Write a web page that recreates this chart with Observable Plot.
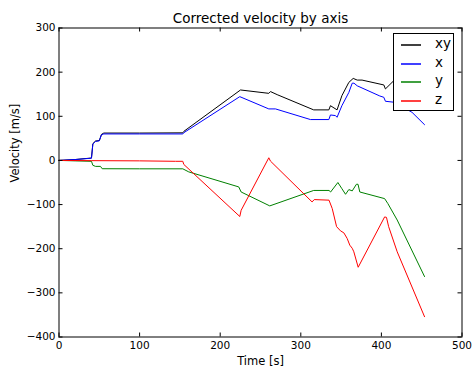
<!DOCTYPE html>
<html>
<head>
<meta charset="utf-8">
<script src="https://cdn.jsdelivr.net/npm/d3@7"></script>
<script src="https://cdn.jsdelivr.net/npm/@observablehq/plot@0.6"></script>
<style>
  html, body { margin: 0; padding: 0; background: #fff; }
  #wrap { position: relative; width: 473px; height: 369px; font-family: "DejaVu Sans", sans-serif; }
  #legend { position: absolute; left: 393px; top: 33px; width: 59px; height: 76px; border: 1px solid #000; background: #fff; }
  .entry { position: absolute; left: 0; height: 16px; width: 59px; }
  .entry .sw { position: absolute; left: 7px; top: 8px; width: 20px; height: 2px; opacity: 0.75; }
  .entry .lb { position: absolute; left: 41px; top: -1px; font-size: 13.5px; line-height: 16px; color: #000; }
</style>
</head>
<body>
<div id="wrap"></div>
<script>
// ---- data ----
const title = "Corrected velocity by axis";
const xLabel = "Time [s]";
const yLabel = "Velocity [m/s]";
const seriesNames = ["xy", "x", "y", "z"];
const seriesColors = ["#000000", "#0000ff", "#008000", "#ff0000"];
const xTicks = [0, 100, 200, 300, 400, 500];
const yTicks = [-400, -300, -200, -100, 0, 100, 200, 300];

const xyT = [0, 20, 40.3, 42, 45.3, 50, 52.7, 55.6, 100, 153.6, 155, 225.2, 260.3, 262.4, 270.7, 316, 334.8, 336.8, 345, 351, 359.6, 365, 370, 376, 403, 405, 415, 430, 440, 453.5];
const xyV = [0, 2, 5.5, 38, 44, 45, 59, 62, 62, 62.5, 66, 159.6, 152, 156, 149, 114.5, 114.5, 124, 114.5, 146.7, 176.8, 185.8, 182, 182, 171, 162, 180, 209, 237, 275];

const xT = [0, 20, 40.3, 42, 45.3, 50, 52.7, 55.6, 100, 153.6, 155, 224.3, 260.3, 268.6, 312, 334.8, 336.8, 343, 345, 351, 359.6, 363.8, 366, 370, 398, 403, 405, 415, 420, 438, 453.5];
const xV = [0, 2, 5, 37, 43, 44.5, 58, 60, 60, 60, 63, 144.5, 116.7, 116.7, 92.6, 92.6, 103, 101.6, 97.8, 124, 154, 175, 175, 169, 146, 143, 134, 132, 128, 109, 81];

const yT = [0, 20, 40.3, 42, 45.3, 51.5, 53.6, 100, 153.6, 161, 223, 226, 261.5, 316, 335, 337, 346, 351, 355.5, 359.6, 363.8, 369, 371, 373.2, 404, 408, 419.6, 453.5];
const yV = [0, -1, -2, -11, -13.5, -13.5, -18.8, -19, -19, -26, -60, -71.5, -103, -68, -68, -71.5, -50, -64, -76.7, -66, -69, -54, -54, -71.5, -86.5, -97.7, -135, -263];

const zT = [0, 40, 100, 144.6, 153.6, 154.8, 224.3, 226, 260.3, 262.4, 314, 316.7, 335, 339, 344.4, 349.3, 353.4, 357.5, 360.8, 363.8, 365.8, 371.2, 404, 406.3, 409, 419.6, 453.5];
const zV = [0, -0.5, -1, -2, -2, -9, -127, -113, 6, -1.6, -94, -88.7, -90, -109, -150, -159.6, -164, -176.7, -192, -199, -207, -242, -128, -129, -150, -207, -354];

// ---- build ----
const rows = (ts, vs) => ts.map((t, i) => ({t, v: vs[i]}));
const seriesData = [rows(xyT, xyV), rows(xT, xV), rows(yT, yV), rows(zT, zV)];

const W = 473, H = 369;
const mL = 58.5, mR = 11.5, mT = 27.5, mB = 32.5;
const fw = W - mL - mR, fh = H - mT - mB;
const tick = 4;

const chart = Plot.plot({
  width: W,
  height: H,
  marginLeft: mL, marginRight: mR, marginTop: mT, marginBottom: mB,
  style: {fontFamily: "DejaVu Sans, sans-serif", fontSize: "10.5px", background: "#fff", color: "#000", overflow: "visible"},
  x: {domain: [0, 500], ticks: xTicks},
  y: {domain: [-400, 300], ticks: yTicks},
  marks: [
    ...seriesData.map((d, i) => Plot.line(d, {x: "t", y: "v", stroke: seriesColors[i], strokeWidth: 1})),
    Plot.frame({stroke: "#000", strokeWidth: 1}),
    // inward ticks on all four sides
    Plot.tickX(xTicks, {x: d => d, insetTop: fh - tick, stroke: "#000"}),
    Plot.tickX(xTicks, {x: d => d, insetBottom: fh - tick, stroke: "#000"}),
    Plot.tickY(yTicks, {y: d => d, insetRight: fw - tick, stroke: "#000"}),
    Plot.tickY(yTicks, {y: d => d, insetLeft: fw - tick, stroke: "#000"}),
    Plot.axisX(xTicks, {tickSize: 0, tickPadding: 5, label: null, fontSize: 10.5}),
    Plot.axisY(yTicks, {tickSize: 0, tickPadding: 3.5, label: null, fontSize: 10.5}),
    Plot.text([xLabel], {frameAnchor: "bottom", lineAnchor: "bottom", dy: 27.5, fontSize: 11.5, fill: "#000"}),
    Plot.text([yLabel], {frameAnchor: "left", lineAnchor: "bottom", rotate: -90, dx: -40.5, fontSize: 11.5, fill: "#000"}),
    Plot.text([title], {frameAnchor: "top", lineAnchor: "bottom", dy: -5, fontSize: 13.5, fill: "#000"})
  ]
});

const wrap = document.getElementById("wrap");
wrap.appendChild(chart);

// legend (HTML overlay inside the axes, like matplotlib's upper-right legend)
const legend = document.createElement("div");
legend.id = "legend";
seriesNames.forEach((name, i) => {
  const e = document.createElement("div");
  e.className = "entry";
  e.style.top = Math.round(2 + i * 18.7) + "px";
  const sw = document.createElement("div");
  sw.className = "sw";
  sw.style.backgroundColor = seriesColors[i];
  const lb = document.createElement("div");
  lb.className = "lb";
  lb.textContent = name;
  e.appendChild(sw); e.appendChild(lb);
  legend.appendChild(e);
});
wrap.appendChild(legend);
</script>
</body>
</html>
